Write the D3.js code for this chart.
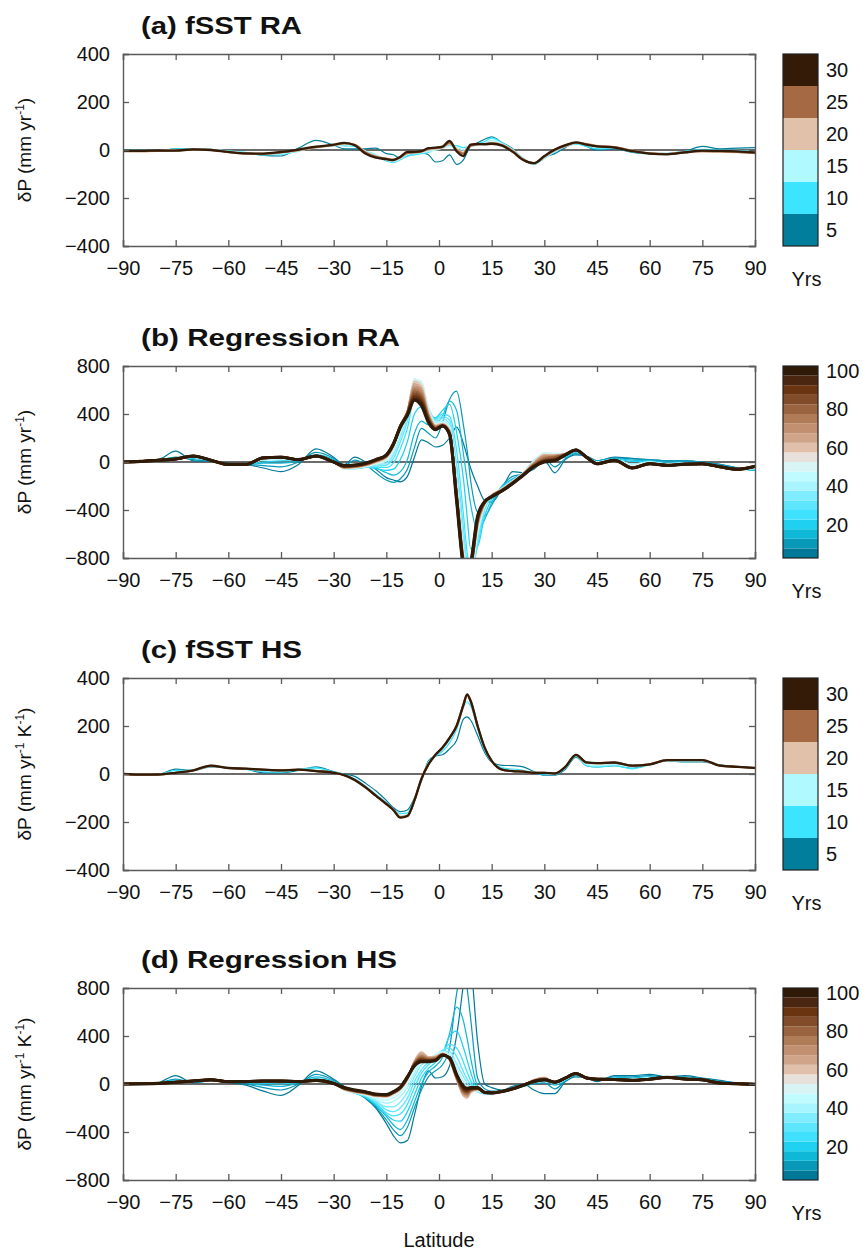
<!DOCTYPE html>
<html><head><meta charset="utf-8">
<script src="https://cdn.jsdelivr.net/npm/d3@7"></script>
<style>
body{margin:0;background:#fff}
svg{display:block}
text{font-family:"Liberation Sans",Arial,Helvetica,sans-serif;fill:#111}
</style>
</head><body>
<svg id="chart" width="863" height="1252"></svg>
<script>
// ---------------- DATA ----------------
const latitudes = [-90,-85,-80,-75,-70,-65,-60,-55,-50,-45,-40,-35,-30,
  -27,-24,-21,-18,-15,-13,-11,-9,-7,-5,-3,-1,1,3,5,7,8,9,11,13,15,18,21,24,27,30,
  33,36,39,42,45,50,55,60,65,70,75,80,85,90];
const latTicks = [-90,-75,-60,-45,-30,-15,0,15,30,45,60,75,90];
const yTicks400 = [-400,-200,0,200,400];
const yTicks800 = [-800,-400,0,400,800];
const yearsShort = [5,10,15,20,25,30];
const yearsLong = [5,10,15,20,25,30,35,40,45,50,55,60,65,70,75,80,85,90,95,100];
const cbTicksShort = [5,10,15,20,25,30];
const cbTicksLong = [20,40,60,80,100];
const colorsShort = ['#007e9c','#3de4fe','#b0f9ff','#e2c1ab','#a56a43','#341b07'];
const colorsLong = ['#007898','#0898b8','#10b8d8','#20d0f0','#40e0ff','#5ee6ff','#80ecff','#a8f4ff','#c0fcff','#d8f4f4',
  '#e8e0da','#e0c0aa','#d0a488','#c29070','#b07c58','#9a6440','#824c2a','#6b3410','#4a2510','#2f1a08'];

// (a) fSST RA, one row per year (5..30)
const fsstRA = [
 [0,-2,-3,5,2,0,-5,-12,-22,-25,8,40,20, 5,5,5,8,-15,-20,-35,-25,-15,-12,-20,-50,-45,-20,-60,-40,-10,15,30,45,55,30,5,-40,-60,-30, -15,10,30,15,0,5,-10,-15,-15,-5,15,5,8,10],
 [-2,-2,0,3,5,2,-4,-10,-20,-18,-4,12,20, 18,15,-5,-20,-45,-52,-40,-25,-20,-15,-10,5,15,20,18,10,12,15,25,35,50,30,2,-35,-60,-35, -8,15,25,15,5,8,-8,-16,-14,-6,2,0,-2,-5],
 [-2,-3,-2,0,2,2,-6,-12,-18,-15,-2,10,18, 22,20,-5,-22,-40,-48,-36,-18,-14,-10,-5,0,8,15,12,0,8,15,22,28,40,25,0,-35,-58,-32, -5,15,28,22,12,10,-5,-15,-15,-8,-2,-4,-6,-8],
 [-4,-5,-4,-2,2,0,-8,-14,-16,-10,-2,12,20, 26,22,-8,-26,-38,-44,-32,-14,-10,-8,2,5,10,25,5,-10,8,15,22,26,30,22,-2,-38,-56,-30, -2,16,30,26,18,12,-2,-14,-16,-10,-6,-8,-10,-14],
 [-5,-5,-3,-2,2,1,-9,-15,-16,-10,0,12,20, 28,22,-10,-28,-36,-40,-30,-12,-10,-6,5,8,12,30,0,-15,5,18,24,25,28,20,-5,-40,-55,-28, 0,18,30,24,16,12,-3,-14,-17,-10,-5,-6,-8,-12],
 [-3,-4,-2,-3,3,0,-8,-14,-15,-8,2,14,22, 30,20,-15,-32,-38,-42,-28,-8,-8,-5,8,10,14,38,-5,-25,0,22,25,24,26,18,-8,-42,-55,-25, 2,20,32,22,15,10,-5,-15,-18,-10,-3,-4,-6,-10]
];

// (b) Regression RA, one row per year (5..100)
const regressionRA = [
 [0,10,20,90,10,5,-10,-20,-50,-80,-20,110,40, -20,40,0,-60,-130,-150,-165,-120,40,185,160,125,140,200,290,150,50,-50,-200,-320,-335,-220,-80,-90,-60,10, -90,20,60,50,10,40,30,20,10,10,0,-20,-50,-70],
 [0,10,15,40,20,5,-15,-20,-30,-40,0,80,30, -30,15,-20,-90,-150,-170,-140,-60,120,280,240,200,330,520,590,300,100,-150,-420,-450,-360,-200,-120,-100,-20,30, -40,30,70,40,10,35,25,20,10,10,0,-20,-50,-70],
 [0,8,12,30,30,10,-15,-20,-10,-10,10,60,20, -40,-45,-30,-50,-90,-110,-80,20,240,340,310,320,380,510,430,60,-150,-350,-570,-480,-340,-200,-140,-90,0,50, 30,40,80,40,5,30,15,10,0,0,-10,-30,-55,-70],
 [0,6,12,28,35,12,-15,-20,0,10,15,50,10, -45,-50,-40,-55,-70,-60,20,170,400,460,390,370,430,480,250,-150,-450,-720,-700,-450,-310,-210,-150,-90,5,55, 50,45,85,40,0,25,5,5,-10,-5,-15,-35,-55,-65],
 [0,5,12,25,40,12,-20,-20,20,25,15,45,5, -50,-55,-45,-45,-45,-10,110,280,540,560,430,360,400,380,100,-450,-750,-900,-700,-400,-295,-214,-156,-90,10,65, 70,70,90,40,0,20,-20,0,-15,-10,-10,-35,-60,-55],
 [0,5,12,25,40,12,-20,-20,20,25,15,45,5, -55,-55,-45,-35,-25,30,170,340,620,610,450,350,380,350,-20,-560,-850,-950,-650,-390,-290,-216,-158,-90,10,70, 70,70,90,40,0,20,-20,0,-15,-10,-10,-35,-60,-55],
 [0,5,12,25,40,12,-20,-20,20,25,15,45,5, -55,-52,-42,-25,-10,60,210,380,670,650,450,340,360,320,-100,-650,-900,-950,-620,-380,-286,-218,-160,-90,10,70, 70,70,90,40,0,20,-20,0,-15,-10,-10,-35,-60,-55],
 [0,5,12,25,40,12,-20,-20,20,25,15,45,5, -55,-50,-40,-20,5,85,240,395,690,670,450,330,340,300,-150,-720,-950,-940,-600,-370,-284,-220,-160,-90,5,75, 70,70,90,40,0,20,-20,0,-15,-10,-10,-35,-60,-55],
 [0,5,13,25,42,13,-20,-20,25,30,18,46,3, -55,-50,-38,-15,15,100,260,405,690,670,440,320,330,290,-180,-760,-950,-920,-580,-360,-282,-220,-160,-90,5,75, 65,68,92,40,-5,18,-30,-5,-20,-12,-12,-38,-60,-50],
 [0,5,13,25,42,13,-20,-20,25,30,18,46,3, -55,-50,-35,-10,25,115,280,415,680,660,430,315,325,280,-200,-780,-950,-910,-560,-350,-280,-222,-160,-92,0,70, 65,68,92,40,-5,18,-30,-5,-20,-12,-12,-38,-60,-50],
 [0,5,15,25,45,15,-20,-20,30,38,20,48,0, -52,-48,-32,-5,35,125,290,420,680,650,420,310,320,270,-220,-790,-950,-900,-540,-348,-280,-224,-162,-94,0,65, 60,70,100,40,-10,14,-45,-14,-28,-20,-18,-42,-60,-40],
 [0,5,15,25,45,15,-20,-20,30,38,20,48,0, -50,-45,-30,0,40,132,295,420,670,630,410,305,320,265,-230,-800,-950,-900,-530,-346,-280,-226,-164,-96,-5,60, 60,70,100,40,-10,14,-45,-14,-28,-20,-18,-42,-60,-40],
 [0,5,15,25,45,15,-20,-20,30,38,20,48,0, -48,-42,-28,2,42,135,300,420,650,610,400,300,315,260,-240,-810,-950,-900,-520,-344,-280,-228,-166,-98,-10,55, 55,68,100,40,-10,14,-45,-14,-28,-20,-18,-42,-60,-40],
 [0,5,15,25,45,15,-20,-20,30,38,20,48,0, -45,-40,-25,5,45,138,300,420,630,590,390,295,310,255,-250,-820,-950,-900,-510,-342,-280,-230,-168,-100,-15,45, 50,66,100,40,-10,14,-45,-14,-28,-20,-18,-42,-60,-40],
 [0,5,15,25,46,15,-20,-20,32,38,20,48,0, -42,-38,-22,8,48,140,300,415,610,570,380,290,310,250,-260,-830,-950,-900,-500,-340,-282,-232,-170,-102,-20,35, 45,64,100,40,-12,14,-47,-14,-28,-19,-16,-41,-60,-38],
 [0,5,15,25,47,15,-20,-20,32,39,20,49,0, -40,-35,-20,10,50,142,300,410,590,550,370,285,305,245,-270,-840,-950,-890,-490,-338,-284,-234,-172,-104,-25,25, 40,62,100,40,-12,14,-47,-14,-28,-19,-16,-41,-60,-38],
 [0,5,15,25,48,15,-20,-20,33,39,20,49,0, -38,-32,-18,12,52,145,300,405,570,530,360,280,305,240,-280,-850,-950,-880,-480,-336,-286,-236,-174,-106,-30,15, 30,62,100,40,-13,14,-48,-14,-28,-18,-15,-40,-60,-37],
 [0,5,15,25,49,15,-20,-20,34,40,20,50,0, -35,-30,-15,15,55,148,300,400,550,510,350,275,302,235,-290,-860,-950,-870,-470,-334,-288,-238,-176,-108,-35,10, 20,61,100,40,-13,14,-49,-14,-28,-18,-15,-40,-60,-37],
 [0,5,15,25,50,15,-20,-20,35,40,20,50,0, -32,-27,-12,18,58,150,295,395,530,490,340,270,300,232,-300,-870,-950,-860,-460,-332,-290,-240,-178,-110,-38,5, 15,60,100,40,-14,14,-50,-14,-28,-18,-14,-40,-60,-36],
 [0,5,15,25,50,15,-20,-20,35,40,20,50,0, -30,-25,-10,20,60,150,290,390,515,470,330,270,300,230,-320,-880,-950,-850,-450,-330,-290,-240,-180,-110,-40,0, 10,60,100,40,-14,14,-50,-14,-28,-18,-14,-40,-60,-36]
];

// (c) fSST HS, one row per year (5..30)
const fsstHS = [
 [0,-3,-2,20,15,30,25,20,5,5,15,30,10, 0,-10,-38,-70,-110,-140,-157,-150,-100,-30,55,75,80,105,140,230,238,225,160,90,50,36,35,30,10,-5, -5,20,70,35,30,35,25,40,55,50,50,38,30,25],
 [0,-3,-2,15,15,32,25,20,10,8,20,25,8, -3,-20,-50,-85,-120,-148,-165,-162,-105,-25,50,75,95,130,185,280,300,285,190,100,52,25,20,15,5,0, -2,25,75,35,30,35,22,38,55,52,55,36,30,25],
 [0,-3,-2,8,15,33,25,21,15,12,18,15,6, -4,-24,-54,-88,-124,-150,-175,-170,-108,-22,45,78,105,145,195,285,300,295,195,105,52,20,15,12,5,3, 0,28,78,40,35,40,30,40,56,55,56,35,30,25],
 [0,-3,-2,5,14,33,25,22,18,16,19,13,5, -5,-25,-55,-90,-125,-150,-178,-174,-110,-20,42,80,108,148,198,288,325,302,198,108,55,18,12,10,5,5, 2,30,78,46,44,46,34,40,57,57,57,35,30,25],
 [0,-3,-2,5,15,34,25,22,18,15,18,12,5, -5,-25,-55,-90,-125,-150,-180,-175,-110,-20,40,80,110,150,200,290,330,305,200,110,55,18,12,10,5,5, 2,30,80,48,45,48,35,40,58,58,58,35,30,25],
 [0,-3,-2,5,15,35,25,22,18,15,18,12,5, -5,-25,-55,-90,-125,-150,-182,-175,-110,-20,40,80,110,150,200,290,332,305,200,110,55,18,12,10,5,5, 2,30,80,48,45,48,35,40,58,58,58,35,30,25]
];

// (d) Regression HS, one row per year (5..100)
const regressionHS = [
 [0,-5,10,70,10,25,15,-10,-60,-95,-10,110,40, -20,-60,-120,-200,-330,-430,-490,-470,-260,-20,110,50,60,150,400,850,1100,1000,350,0,-30,-50,-20,0,-50,-80, -80,20,60,50,20,70,70,80,60,70,50,30,10,5],
 [0,0,8,40,15,30,15,0,-30,-50,0,80,30, -30,-68,-115,-190,-300,-380,-430,-360,-200,-50,60,110,160,300,750,1000,800,550,50,-40,-60,-58,-44,-20,0,10, -40,25,70,50,30,60,60,70,58,60,45,25,8,3],
 [0,0,6,30,20,30,18,10,-10,-20,10,60,20, -35,-72,-112,-180,-270,-340,-380,-300,-150,0,100,150,220,420,640,520,380,220,-20,-70,-80,-60,-44,-18,10,25, -10,30,75,50,35,55,50,60,56,55,42,20,6,2],
 [0,1,5,25,20,32,18,15,5,0,15,45,15, -40,-75,-108,-170,-255,-300,-310,-230,-90,50,130,180,250,400,440,300,200,100,-50,-80,-80,-60,-44,-18,15,30, 0,35,80,50,35,50,45,55,56,50,40,15,5,0],
 [0,2,5,20,22,33,20,18,15,15,18,35,10, -45,-76,-104,-160,-240,-265,-250,-170,-30,90,160,210,270,330,300,180,100,30,-60,-80,-80,-62,-44,-16,18,32, 5,40,82,50,38,45,40,50,55,48,38,12,4,-2],
 [0,2,5,20,22,33,20,18,15,15,18,35,10, -48,-76,-100,-150,-215,-230,-200,-120,20,120,180,230,280,300,230,100,40,0,-65,-80,-80,-62,-44,-16,20,35, 5,40,82,50,38,45,40,50,55,48,38,12,4,-2],
 [0,2,5,20,22,33,20,18,15,15,18,35,10, -50,-74,-96,-140,-190,-190,-150,-70,60,160,200,240,275,270,170,60,10,-30,-65,-78,-78,-62,-42,-14,22,38, 5,40,82,50,38,45,40,50,55,48,38,12,4,-2],
 [0,2,5,20,22,33,20,18,15,15,18,35,10, -50,-72,-92,-130,-160,-145,-105,-30,90,190,210,240,270,250,130,20,-20,-45,-60,-76,-76,-62,-42,-14,25,40, 5,40,82,50,38,45,40,50,55,48,38,12,4,-2],
 [0,2,5,20,22,33,20,18,15,15,18,35,10, -50,-70,-88,-120,-135,-115,-75,0,120,220,220,240,265,230,90,-20,-50,-60,-55,-74,-74,-62,-42,-12,28,45, 5,40,82,50,38,45,40,50,55,48,38,12,4,-2],
 [0,2,5,15,24,35,20,20,22,22,20,32,6, -50,-70,-85,-110,-115,-95,-55,20,150,250,225,235,260,215,60,-60,-90,-70,-50,-72,-72,-62,-42,-12,30,50, 12,48,86,50,40,40,32,42,55,44,36,9,3,-3],
 [0,2,5,15,24,35,20,20,22,22,20,32,6, -48,-68,-82,-102,-106,-82,-44,38,190,270,225,230,256,200,35,-100,-120,-75,-48,-70,-70,-62,-40,-10,35,55, 12,48,86,50,40,40,32,42,55,44,36,9,3,-3],
 [0,2,5,15,24,35,20,20,22,22,20,32,6, -46,-66,-80,-100,-104,-80,-42,40,190,265,225,230,254,202,40,-100,-115,-70,-46,-70,-70,-62,-40,-10,34,52, 12,48,86,50,40,40,32,42,55,44,36,9,3,-3],
 [0,2,5,15,24,35,20,20,22,22,20,32,6, -44,-64,-78,-98,-102,-78,-40,42,185,255,220,225,252,204,45,-90,-105,-65,-44,-70,-70,-62,-40,-10,32,50, 12,48,86,50,40,40,32,42,55,44,36,9,3,-3],
 [0,2,5,15,24,35,20,20,22,22,20,32,6, -42,-62,-76,-96,-100,-76,-38,45,180,240,215,220,250,206,50,-80,-95,-60,-42,-70,-71,-62,-40,-10,30,48, 13,49,87,50,40,39,31,41,55,43,36,9,3,-3],
 [0,2,5,15,24,35,20,20,23,23,20,31,6, -40,-60,-74,-94,-98,-74,-36,48,175,230,210,215,248,208,55,-70,-85,-55,-40,-70,-72,-62,-40,-10,28,45, 13,49,87,50,40,39,31,41,55,43,36,9,3,-3],
 [0,2,5,15,25,35,20,20,23,23,20,31,5, -38,-58,-72,-92,-96,-72,-34,50,170,220,205,210,246,210,60,-60,-75,-50,-38,-70,-72,-62,-40,-10,26,42, 14,49,87,50,40,39,31,41,55,43,35,8,2,-3],
 [0,2,5,15,25,35,20,20,24,24,20,31,5, -36,-56,-70,-90,-94,-70,-32,52,165,210,200,205,244,212,65,-50,-65,-45,-36,-70,-73,-62,-40,-10,24,40, 14,50,88,50,40,38,30,40,55,42,35,8,2,-3],
 [0,2,5,15,25,35,20,20,24,24,20,30,5, -34,-54,-68,-88,-92,-68,-30,55,160,200,195,200,242,215,70,-40,-55,-40,-34,-70,-74,-62,-40,-10,22,38, 15,50,88,50,40,38,30,40,55,42,35,8,2,-3],
 [0,2,5,15,25,35,20,20,25,25,20,30,5, -32,-52,-66,-86,-90,-66,-28,58,155,192,190,198,240,218,75,-30,-45,-35,-32,-70,-74,-62,-40,-10,20,35, 15,50,88,50,40,38,30,40,55,42,35,8,2,-3],
 [0,2,5,15,25,35,20,20,25,25,20,30,5, -30,-50,-64,-85,-88,-64,-25,60,150,185,186,195,240,220,80,-20,-36,-30,-30,-70,-75,-62,-40,-10,20,35, 15,50,88,50,40,38,30,40,55,42,35,8,2,-3]
];

// ---------------- LAYOUT ----------------
const X0 = 123, X1 = 755, PH = 192;
const CB_X = 783, CB_W = 35;
const panels = [
  {title:'(a) fSST RA', titleW:161, top:54, yMax:400, yTicks:yTicks400, withK:false, data:fsstRA, years:yearsShort, colors:colorsShort, cbTicks:cbTicksShort, span:30},
  {title:'(b) Regression RA', titleW:259, top:366, yMax:800, yTicks:yTicks800, withK:false, data:regressionRA, years:yearsLong, colors:colorsLong, cbTicks:cbTicksLong, span:100},
  {title:'(c) fSST HS', titleW:161, top:678, yMax:400, yTicks:yTicks400, withK:true, data:fsstHS, years:yearsShort, colors:colorsShort, cbTicks:cbTicksShort, span:30},
  {title:'(d) Regression HS', titleW:256, top:988, yMax:800, yTicks:yTicks800, withK:true, data:regressionHS, years:yearsLong, colors:colorsLong, cbTicks:cbTicksLong, span:100}
];

const svg = d3.select('#chart');
const x = d3.scaleLinear().domain([-90, 90]).range([X0, X1]);
const FRAME = '#5a5a5a';

panels.forEach((p, pi) => {
  const top = p.top, bottom = top + PH;
  const y = d3.scaleLinear().domain([-p.yMax, p.yMax]).range([bottom, top]);
  const g = svg.append('g');

  // title
  g.append('text').attr('x', 141).attr('y', top - 20.5)
    .attr('font-size', 24).attr('font-weight', 'bold')
    .attr('textLength', p.titleW).attr('lengthAdjust', 'spacingAndGlyphs')
    .text(p.title);

  // clip
  const cid = 'clip' + pi;
  svg.append('clipPath').attr('id', cid).append('rect')
    .attr('x', X0).attr('y', top).attr('width', X1 - X0).attr('height', PH);

  // zero line
  g.append('line').attr('x1', X0).attr('x2', X1).attr('y1', y(0)).attr('y2', y(0))
    .attr('stroke', '#3a3a3a').attr('stroke-width', 1.3);

  // series
  const line = d3.line().x((d, i) => x(latitudes[i])).y(d => y(d)).curve(d3.curveMonotoneX);
  const n = p.data.length;
  const lg = g.append('g').attr('clip-path', `url(#${cid})`);
  p.data.forEach((row, i) => {
    const t = i / (n - 1);
    const w = n > 10 ? 1.2 + 1.9 * t * t : 1.2 + 1.1 * t;
    lg.append('path').datum(row).attr('d', line)
      .attr('fill', 'none').attr('stroke', p.colors[i])
      .attr('stroke-width', w).attr('stroke-linejoin', 'round');
  });

  // axes
  const axB = d3.axisBottom(x).tickValues(latTicks).tickSize(-6).tickPadding(10).tickFormat(d3.format('d'));
  const axT = d3.axisTop(x).tickValues(latTicks).tickSize(-6).tickFormat('');
  const axL = d3.axisLeft(y).tickValues(p.yTicks).tickSize(-6).tickPadding(13).tickFormat(d3.format('d'));
  const axR = d3.axisRight(y).tickValues(p.yTicks).tickSize(-6).tickFormat('');
  const gb = g.append('g').attr('transform', `translate(0,${bottom})`).call(axB);
  const gt = g.append('g').attr('transform', `translate(0,${top})`).call(axT);
  const gl = g.append('g').attr('transform', `translate(${X0},0)`).call(axL);
  const gr = g.append('g').attr('transform', `translate(${X1},0)`).call(axR);
  [gb, gt, gl, gr].forEach(a => {
    a.select('.domain').attr('stroke', FRAME).attr('stroke-width', 1.4);
    a.selectAll('.tick line').attr('stroke', FRAME).attr('stroke-width', 1.3);
    a.selectAll('text').attr('font-size', 20).attr('fill', '#111')
      .attr('font-family', '"Liberation Sans",Arial,sans-serif');
  });
  gb.selectAll('.tick text').attr('dy', '0.95em');

  // y label
  const yl = g.append('text')
    .attr('transform', `translate(31,${(top + bottom) / 2}) rotate(-90)`)
    .attr('text-anchor', 'middle').attr('font-size', 19);
  yl.append('tspan').text('δP (mm yr');
  yl.append('tspan').attr('dy', -7).attr('font-size', 12).text('-1');
  if (p.withK) {
    yl.append('tspan').attr('dy', 7).text(' K');
    yl.append('tspan').attr('dy', -7).attr('font-size', 12).text('-1');
  }
  yl.append('tspan').attr('dy', 7).text(')');

  // colorbar
  const cb = d3.scaleLinear().domain([0, p.span]).range([bottom, top]);
  const step = p.span / p.years.length;
  p.years.forEach((yr, i) => {
    g.append('rect').attr('x', CB_X).attr('width', CB_W)
      .attr('y', cb(yr)).attr('height', cb(yr - step) - cb(yr))
      .attr('fill', p.colors[i]);
  });
  g.append('rect').attr('x', CB_X).attr('y', top).attr('width', CB_W).attr('height', PH)
    .attr('fill', 'none').attr('stroke', '#222').attr('stroke-width', 1.2);
  p.cbTicks.forEach(v => {
    g.append('text').attr('x', CB_X + CB_W + 8).attr('y', cb(v - step / 2))
      .attr('dy', '0.36em').attr('font-size', 20).text(v);
  });
  g.append('text').attr('x', CB_X + CB_W / 2 + 6).attr('y', bottom + 40)
    .attr('text-anchor', 'middle').attr('font-size', 20).text('Yrs');
});

svg.append('text').attr('x', (X0 + X1) / 2).attr('y', 1247)
  .attr('text-anchor', 'middle').attr('font-size', 20).text('Latitude');
</script>
</body></html>
